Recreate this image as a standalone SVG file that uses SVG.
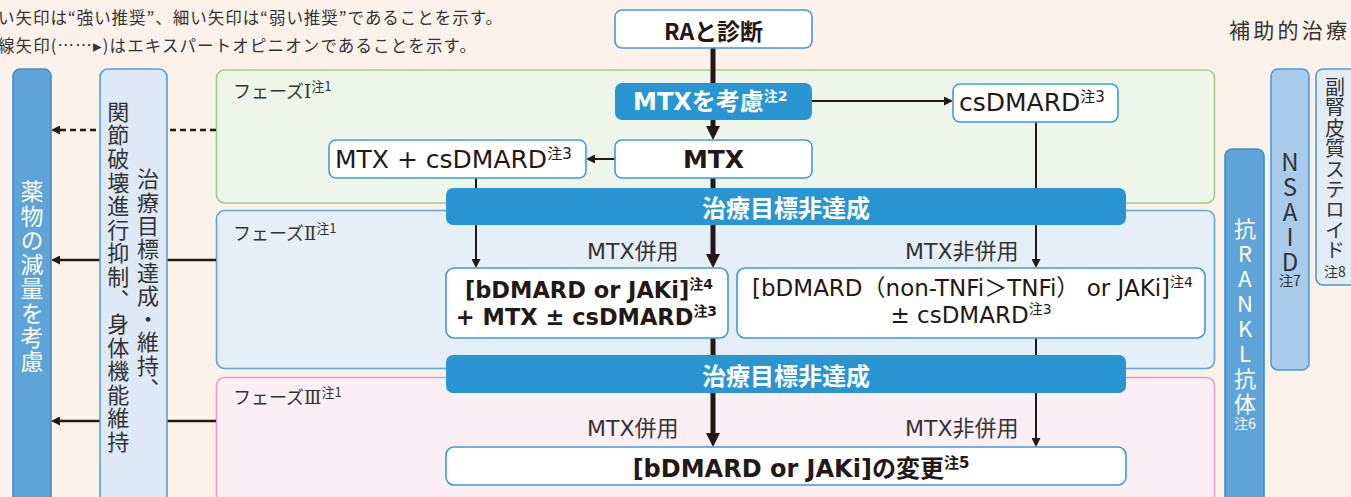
<svg xmlns="http://www.w3.org/2000/svg" width="1351" height="497" viewBox="0 0 1351 497">
<defs>
<style>
.jp{font-family:"Noto Sans CJK JP",sans-serif;}
.lat{font-family:"DejaVu Sans","Noto Sans CJK JP",sans-serif;}
.rn{font-family:"DejaVu Serif","Noto Sans CJK JP",serif;}
.box{fill:#fff;stroke:#3f9bd9;stroke-width:1.6;}
.bar{fill:#2a95d3;}
.thick{stroke:#231815;stroke-width:5;fill:none;}
.thin{stroke:#231815;stroke-width:2;fill:none;}
.side{stroke:#231815;stroke-width:2.4;fill:none;}
.dash{stroke-dasharray:6 4;}
.dk{fill:#333;}
.ink{fill:#231815;}
.wt{fill:#fff;}
.vt{writing-mode:vertical-rl;text-orientation:upright;}
</style>
<marker id="hT" markerWidth="14" markerHeight="14" refX="0" refY="7" orient="auto" markerUnits="userSpaceOnUse" viewBox="0 0 14 14"><path d="M0,0 L14,7 L0,14 z" fill="#231815"/></marker>
<marker id="hS" markerWidth="9" markerHeight="9" refX="0" refY="4.5" orient="auto" markerUnits="userSpaceOnUse" viewBox="0 0 9 9"><path d="M0,0 L9,4.5 L0,9 z" fill="#231815"/></marker>
</defs>
<rect x="0" y="0" width="1351" height="497" fill="#fdf2e9"/>

<g id="legend">
<text class="jp dk" x="-2" y="24" font-size="16.5" textLength="504" lengthAdjust="spacing">い矢印は“強い推奨”、細い矢印は“弱い推奨”であることを示す。</text>
<text class="jp dk" x="-2" y="52" font-size="16.5" textLength="478" lengthAdjust="spacing">線矢印(……▸)はエキスパートオピニオンであることを示す。</text>
</g>
<g id="aux-title"><text class="jp dk" x="1229" y="38" font-size="21" textLength="118" lengthAdjust="spacing">補助的治療</text></g>

<g id="phase1"><rect x="216.5" y="70" width="998" height="133" rx="8" fill="#eef6e9" stroke="#9dcf88" stroke-width="1.6"/><text class="jp dk" x="233" y="98" font-size="18">フェーズ<tspan class="rn">Ⅰ</tspan><tspan font-size="13" dy="-7">注1</tspan></text></g>
<g id="phase2"><rect x="216.5" y="210.5" width="998" height="158" rx="8" fill="#e6eff8" stroke="#5aa8de" stroke-width="1.6"/><text class="jp dk" x="233" y="240" font-size="18">フェーズ<tspan class="rn">Ⅱ</tspan><tspan font-size="13" dy="-7">注1</tspan></text></g>
<g id="phase3"><rect x="216.5" y="377.5" width="998" height="135" rx="8" fill="#fbeef4" stroke="#e79ac4" stroke-width="1.6"/><text class="jp dk" x="233" y="404" font-size="18">フェーズ<tspan class="rn">Ⅲ</tspan><tspan font-size="13" dy="-7">注1</tspan></text></g>

<g id="connectors">
<path class="thick" d="M713,48 V84"/>
<path class="thick" d="M713,120 V126" marker-end="url(#hT)"/>
<path class="thick" d="M713,178 V189"/>
<path class="thick" d="M713,225 V254" marker-end="url(#hT)"/>
<path class="thick" d="M713,338 V356"/>
<path class="thick" d="M713,393 V433" marker-end="url(#hT)"/>
<path class="thin" d="M476,178 V189"/>
<path class="thin" d="M1036,122 V189"/>
<path class="thin" d="M476,225 V259" marker-end="url(#hS)"/>
<path class="thin" d="M1036,225 V259" marker-end="url(#hS)"/>
<path class="thin" d="M1036,338 V356"/>
<path class="thin" d="M1036,393 V438" marker-end="url(#hS)"/>
<path class="thin" d="M812,101 H944" marker-end="url(#hS)"/>
<path class="thin" d="M615,159 H595" marker-end="url(#hS)"/>
<path class="side dash" d="M216,130 H60" marker-end="url(#hS)"/>
<path class="side" d="M216,260 H60" marker-end="url(#hS)"/>
<path class="side" d="M216,421 H60" marker-end="url(#hS)"/>
<text class="lat dk" x="587" y="259" font-size="22">MTX併用</text>
<text class="lat dk" x="905" y="259" font-size="22">MTX非併用</text>
<text class="lat dk" x="587" y="436" font-size="22">MTX併用</text>
<text class="lat dk" x="905" y="436" font-size="22">MTX非併用</text>
</g>

<g id="ra"><rect class="box" x="615" y="10" width="197" height="38" rx="7"/><text class="jp ink" x="713.5" y="30" font-size="23" font-weight="bold" text-anchor="middle" dominant-baseline="central">RAと診断</text></g>
<g id="mtx-consider"><rect class="bar" x="615" y="83" width="197" height="37" rx="7"/><text class="lat wt" x="633" y="110" font-size="24" font-weight="bold">MTXを考慮<tspan font-size="14" dy="-9">注2</tspan></text></g>
<g id="mtx"><rect class="box" x="615" y="140" width="197" height="38" rx="7"/><text class="lat ink" x="713.5" y="168" font-size="25" font-weight="bold" text-anchor="middle">MTX</text></g>
<g id="mtx-csdmard"><rect class="box" x="329" y="140" width="257" height="38" rx="7"/><text class="lat ink" x="335" y="168" font-size="25">MTX + csDMARD<tspan font-size="15" dy="-9">注3</tspan></text></g>
<g id="csdmard"><rect class="box" x="953" y="84" width="165" height="38" rx="7"/><text class="lat ink" x="959" y="111" font-size="25">csDMARD<tspan font-size="15" dy="-9">注3</tspan></text></g>
<g id="bar1"><rect class="bar" x="446" y="188" width="680" height="37" rx="7"/><text class="jp wt" x="786" y="206.5" font-size="24" font-weight="bold" text-anchor="middle" dominant-baseline="central">治療目標非達成</text></g>
<g id="p2-left"><rect class="box" x="446" y="268" width="282" height="70" rx="8"/><text class="lat ink" font-size="22.5" font-weight="bold" text-anchor="middle"><tspan x="589" y="298">[bDMARD or JAKi]</tspan><tspan font-size="14" dy="-9">注4</tspan><tspan x="586.5" y="325">+ MTX ± csDMARD</tspan><tspan font-size="14" dy="-9">注3</tspan></text></g>
<g id="p2-right"><rect class="box" x="737" y="268" width="468" height="70" rx="8"/><text class="lat ink" font-size="23" text-anchor="middle"><tspan x="972.5" y="296">[bDMARD（non-TNFi＞TNFi） or JAKi]</tspan><tspan font-size="14" dy="-9">注4</tspan><tspan x="971" y="323">± csDMARD</tspan><tspan font-size="14" dy="-9">注3</tspan></text></g>
<g id="bar2"><rect class="bar" x="446" y="355" width="680" height="38" rx="7"/><text class="jp wt" x="786" y="374" font-size="24" font-weight="bold" text-anchor="middle" dominant-baseline="central">治療目標非達成</text></g>
<g id="p3"><rect class="box" x="446" y="447" width="680" height="38" rx="8"/><text class="lat ink" x="801" y="477" font-size="24" font-weight="bold" text-anchor="middle">[bDMARD or JAKi]の変更<tspan font-size="15" dy="-9">注5</tspan></text></g>

<g id="reduce"><rect x="13" y="69" width="38" height="450" rx="7" fill="#5ea4d9" stroke="#3a92cf" stroke-width="1.6"/><text class="jp wt vt" x="32" y="180" font-size="23" letter-spacing="1.3">薬物の減量を考慮</text></g>

<g id="goal"><rect x="100" y="69" width="67" height="450" rx="8" fill="#dde9f6" stroke="#4ea3dc" stroke-width="1.6"/>
<text class="jp dk vt" x="148" y="168" font-size="22" letter-spacing="1.3">治療目標達成・維持、</text>
<text class="jp dk vt" x="118.3" y="100.5" font-size="22" letter-spacing="1.57">関節破壊進行抑制、身体機能維持</text></g>

<g id="rankl"><rect x="1225" y="149" width="39" height="370" rx="7" fill="#5ea4d9" stroke="#3a92cf" stroke-width="1.6"/><text class="jp wt vt" x="1245" y="217.5" font-size="22" letter-spacing="3">抗RANKL抗体</text><text class="jp wt" x="1245" y="429" font-size="14" text-anchor="middle">注6</text></g>

<g id="nsaid"><rect x="1271" y="69" width="38" height="301" rx="7" fill="#a9cbea" stroke="#4a9bd8" stroke-width="1.6"/><text class="jp dk vt" x="1290" y="149.5" font-size="24" letter-spacing="1">NSAID</text><text class="jp dk" x="1290" y="286" font-size="14" text-anchor="middle">注7</text></g>

<g id="steroid"><rect x="1316" y="69" width="50" height="216" rx="7" fill="#e3edf8" stroke="#4a9bd8" stroke-width="1.6"/><text class="jp dk vt" x="1335" y="77.5" font-size="20" letter-spacing="0.4">副腎皮質ステロイド</text><text class="jp dk" x="1335" y="277" font-size="14" text-anchor="middle">注8</text></g>
</svg>
